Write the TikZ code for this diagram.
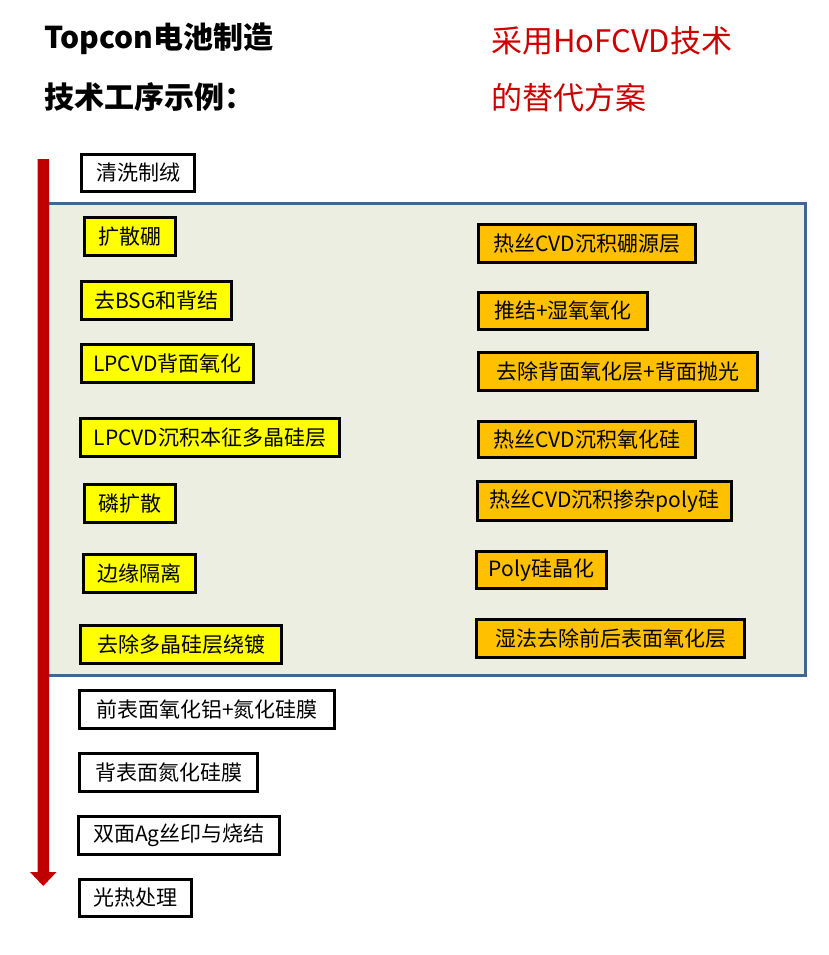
\documentclass[tikz,border=0pt]{standalone}
\usepackage{fontspec}
\setmainfont{Noto Sans CJK SC}
\definecolor{boxyellow}{HTML}{FFFF00}
\definecolor{boxorange}{HTML}{FFC000}
\definecolor{panelfill}{HTML}{EBEEE0}
\definecolor{panelline}{HTML}{41668F}
\definecolor{arrowred}{HTML}{C00000}
\definecolor{titlered}{HTML}{CC0000}
\tikzset{
  stepbase/.style={draw=black, line width=3pt, inner sep=0pt, align=center,
    font=\fontsize{21}{25}\selectfont, minimum height=38pt},
  whitebox/.style={stepbase, fill=white},
  yellowbox/.style={stepbase, fill=boxyellow},
  orangebox/.style={stepbase, fill=boxorange},
  titleblack/.style={anchor=west, inner sep=0pt, font=\fontsize{30}{34}\selectfont\bfseries},
  titlered/.style={anchor=west, inner sep=0pt, text=titlered, font=\fontsize{31}{35}\selectfont},
}
\begin{document}
\begin{tikzpicture}[x=1pt,y=-1pt]
\useasboundingbox (0,0) rectangle (829,955);
% titles
\node[titleblack] (t1) at (44,39) {Topcon电池制造};
\node[titleblack] (t2) at (44,97) {技术工序示例：};
\node[titlered] (r1) at (491,41) {采用HoFCVD技术};
\node[titlered] (r2) at (491,98) {的替代方案};
% panel
\node[draw=panelline, fill=panelfill, line width=3pt, inner sep=0pt,
  minimum width=760pt, minimum height=472pt] (panel) at (425.5,439.5) {};
% red arrow
\fill[arrowred] (37.5,159) -- (49,159) -- (49,872) -- (56.5,872) -- (43.25,886)
  -- (30,872) -- (37.5,872) -- cycle;
% white boxes
\node[whitebox, minimum width=113pt, minimum height=37pt] (w0) at (138,173) {清洗制绒};
\node[whitebox, minimum width=255pt] (w1) at (207,709.5) {前表面氧化铝+氮化硅膜};
\node[whitebox, minimum width=178pt] (w2) at (168.5,772.5) {背表面氮化硅膜};
\node[whitebox, minimum width=201pt] (w3) at (179,835.5) {双面Ag丝印与烧结};
\node[whitebox, minimum width=112pt, minimum height=37pt] (w4) at (135.5,898) {光热处理};
% yellow boxes
\node[yellowbox, minimum width=91pt] (y1) at (130,236.5) {扩散硼};
\node[yellowbox, minimum width=150pt] (y2) at (156.5,300.5) {去BSG和背结};
\node[yellowbox, minimum width=172pt] (y3) at (167.5,363.5) {LPCVD背面氧化};
\node[yellowbox, minimum width=259pt] (y4) at (210,437.5) {LPCVD沉积本征多晶硅层};
\node[yellowbox, minimum width=91pt] (y5) at (130,503.5) {磷扩散};
\node[yellowbox, minimum width=112pt] (y6) at (139.5,573.5) {边缘隔离};
\node[yellowbox, minimum width=201pt] (y7) at (181,644.5) {去除多晶硅层绕镀};
% orange boxes
\node[orangebox, minimum width=217pt] (o1) at (587,243.5) {热丝CVD沉积硼源层};
\node[orangebox, minimum width=169pt, minimum height=37pt] (o2) at (563,311) {推结+湿氧氧化};
\node[orangebox, minimum width=279pt] (o3) at (618,371.5) {去除背面氧化层+背面抛光};
\node[orangebox, minimum width=217pt, minimum height=36pt] (o4) at (587,439.5) {热丝CVD沉积氧化硅};
\node[orangebox, minimum width=254pt, minimum height=39pt] (o5) at (604.5,501) {热丝CVD沉积掺杂poly硅};
\node[orangebox, minimum width=130pt, minimum height=37pt] (o6) at (541.5,570) {Poly硅晶化};
\node[orangebox, minimum width=268pt] (o7) at (610.5,638.5) {湿法去除前后表面氧化层};
\end{tikzpicture}
\end{document}
